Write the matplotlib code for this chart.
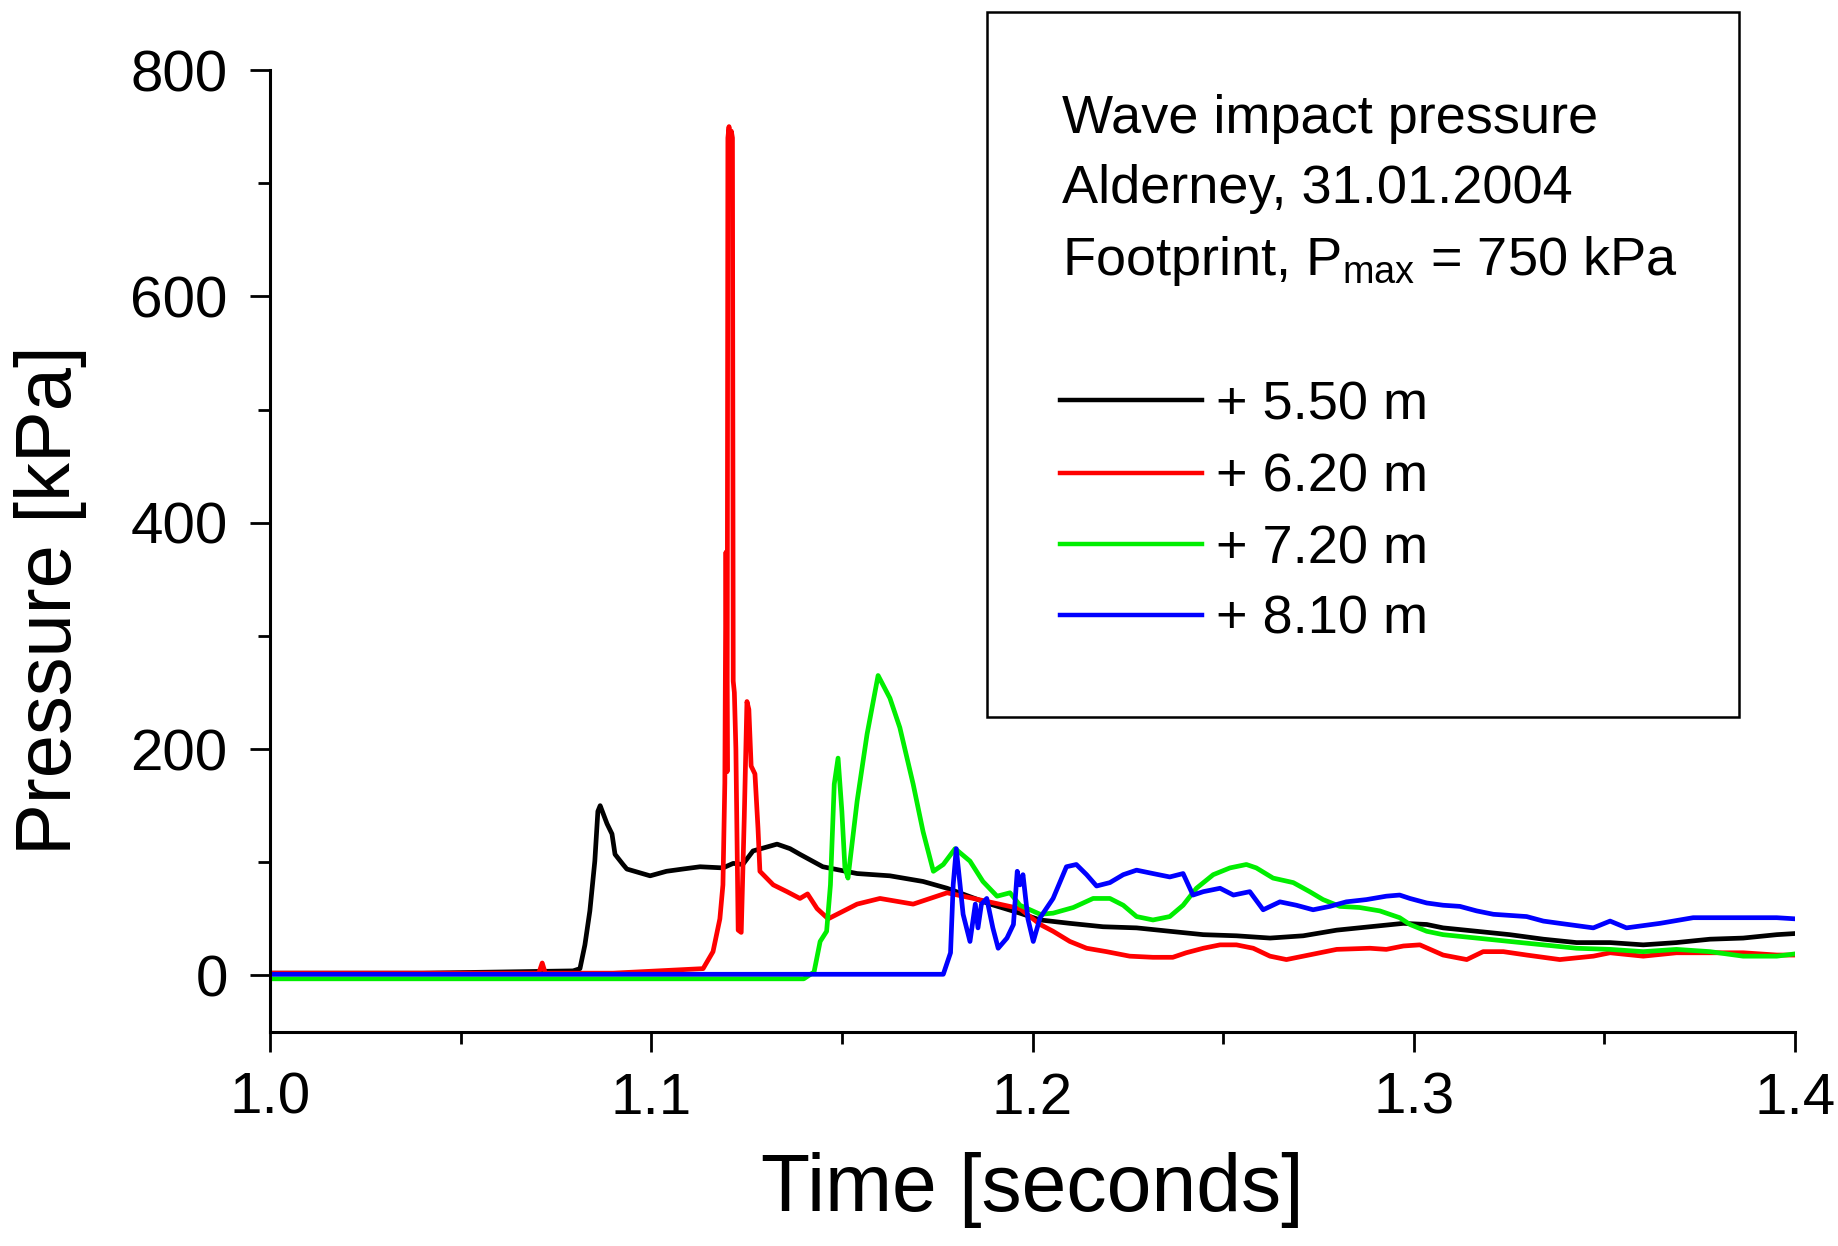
import matplotlib
matplotlib.use("Agg")
import matplotlib.pyplot as plt
from matplotlib.lines import Line2D
from matplotlib.patches import Rectangle
from matplotlib.ticker import MultipleLocator

plt.rcParams['font.family'] = ['Liberation Sans', 'DejaVu Sans']
plt.rcParams['mathtext.fontset'] = 'custom'
plt.rcParams['mathtext.rm'] = 'Liberation Sans'
plt.rcParams['mathtext.it'] = 'Liberation Sans'

# ---------------- data ----------------
labels = ["+ 5.50 m", "+ 6.20 m", "+ 7.20 m", "+ 8.10 m"]
colors = ["#000000", "#ff0000", "#00ee00", "#0000ff"]

t_550 = [1.000, 1.020, 1.040, 1.060, 1.0795, 1.0813, 1.0826, 1.0839, 1.0852, 1.0860,
         1.0866, 1.0875, 1.0884, 1.0897, 1.0905, 1.0926, 1.0936, 1.0997, 1.1040, 1.1083,
         1.1128, 1.1188, 1.1215, 1.1240, 1.1267, 1.1330, 1.1364, 1.1390, 1.1450, 1.1540,
         1.1626, 1.1713, 1.1776, 1.1889, 1.1967, 1.2020, 1.2098, 1.2185, 1.2273, 1.2360,
         1.2448, 1.2535, 1.2623, 1.2710, 1.2798, 1.2885, 1.2973, 1.3034, 1.3077, 1.3165,
         1.3252, 1.3340, 1.3427, 1.3515, 1.3602, 1.3689, 1.3777, 1.3864, 1.3952, 1.4000]
p_550 = [2, 2, 2, 3, 4, 6, 27, 57, 101, 145,
         150, 142, 134, 125, 107, 98, 94, 88, 92, 94,
         96, 95, 99, 98, 110, 116, 112, 107, 96, 90,
         88, 83, 77, 63, 55, 49, 46, 43, 42, 39,
         36, 35, 33, 35, 40, 43, 46, 45, 42, 39,
         36, 32, 29, 29, 27, 29, 32, 33, 36, 37]

t_620 = [1.000, 1.030, 1.060, 1.0705, 1.0714, 1.0722, 1.090, 1.1136, 1.1162, 1.1180,
         1.1188, 1.1193, 1.1196, 1.1199, 1.1201, 1.1204, 1.1207, 1.1210, 1.1213, 1.1215,
         1.1218, 1.1222, 1.1228, 1.1236, 1.1244, 1.1251, 1.1256, 1.1262, 1.1272, 1.1280,
         1.1285, 1.1320, 1.1356, 1.1390, 1.1410, 1.1435, 1.1464, 1.1540, 1.1600, 1.1687,
         1.1776, 1.1845, 1.1967, 1.2020, 1.2054, 1.2098, 1.2142, 1.2194, 1.2255, 1.2316,
         1.2368, 1.2403, 1.2448, 1.2492, 1.2535, 1.2579, 1.2623, 1.2666, 1.2710, 1.2754,
         1.2798, 1.2885, 1.2928, 1.2973, 1.3016, 1.3077, 1.3139, 1.3182, 1.3235, 1.3296,
         1.3383, 1.3471, 1.3515, 1.3602, 1.3689, 1.3864, 1.3952, 1.4000]
p_620 = [2, 2, 2, 2, 11, 2, 2, 6, 21, 50,
         80, 170, 374, 180, 740, 750, 690, 746, 740, 260,
         250, 200, 40, 38, 140, 242, 235, 185, 178, 130,
         92, 80, 74, 68, 72, 59, 50, 63, 68, 63,
         73, 68, 59, 45, 39, 30, 24, 21, 17, 16,
         16, 20, 24, 27, 27, 24, 17, 14, 17, 20,
         23, 24, 23, 26, 27, 18, 14, 21, 21, 18,
         14, 17, 20, 17, 20, 20, 18, 18]

t_720 = [1.000, 1.070, 1.140, 1.1427, 1.1443, 1.1460, 1.1470, 1.1480, 1.1490, 1.1500,
         1.1508, 1.1516, 1.1540, 1.1566, 1.1595, 1.1626, 1.1652, 1.1687, 1.1713, 1.1740,
         1.1766, 1.1797, 1.1836, 1.1870, 1.1907, 1.1941, 1.1967, 1.2020, 1.2054, 1.2107,
         1.2159, 1.2203, 1.2238, 1.2273, 1.2316, 1.2360, 1.2395, 1.2430, 1.2474, 1.2518,
         1.2561, 1.2587, 1.2631, 1.2684, 1.2727, 1.2762, 1.2806, 1.2858, 1.2911, 1.2963,
         1.2990, 1.3034, 1.3077, 1.3165, 1.3252, 1.3340, 1.3427, 1.3515, 1.3602, 1.3689,
         1.3777, 1.3864, 1.3952, 1.4000]
p_720 = [-3, -3, -3, 3, 30, 39, 80, 169, 192, 145,
         95, 86, 154, 213, 265, 245, 219, 169, 127, 92,
         98, 112, 101, 83, 70, 73, 62, 54, 55, 60,
         68, 68, 62, 52, 49, 52, 62, 77, 89, 95,
         98, 95, 86, 82, 74, 67, 61, 60, 57, 51,
         45, 39, 36, 33, 30, 27, 24, 23, 21, 23,
         21, 17, 17, 19]

t_810 = [1.000, 1.090, 1.1766, 1.1785, 1.1792, 1.1800, 1.1810, 1.1818, 1.1836, 1.1850,
         1.1857, 1.1866, 1.1880, 1.1896, 1.1910, 1.1933, 1.1950, 1.1960, 1.1967, 1.1975,
         1.1988, 1.2002, 1.2020, 1.2054, 1.2089, 1.2115, 1.2142, 1.2168, 1.2203, 1.2238,
         1.2273, 1.2316, 1.2360, 1.2395, 1.2421, 1.2448, 1.2492, 1.2527, 1.2570, 1.2605,
         1.2649, 1.2692, 1.2736, 1.2780, 1.2823, 1.2876, 1.2928, 1.2963, 1.2990, 1.3034,
         1.3077, 1.3121, 1.3165, 1.3209, 1.3296, 1.3340, 1.3383, 1.3471, 1.3515, 1.3558,
         1.3646, 1.3733, 1.3821, 1.3952, 1.4000]
p_810 = [1, 1, 1, 20, 80, 112, 80, 54, 30, 63,
         42, 63, 68, 42, 24, 33, 45, 92, 80, 89,
         50, 30, 51, 68, 96, 98, 89, 79, 82, 89,
         93, 90, 87, 90, 71, 74, 77, 71, 74, 58,
         65, 62, 58, 61, 65, 67, 70, 71, 68, 64,
         62, 61, 57, 54, 52, 48, 46, 42, 48, 42,
         46, 51, 51, 51, 50]

series_t = [t_550, t_620, t_720, t_810]
series_p = [p_550, p_620, p_720, p_810]

x_ticks = [1.0, 1.1, 1.2, 1.3, 1.4]
y_ticks = [0, 200, 400, 600, 800]

header = ["Wave impact pressure", "Alderney, 31.01.2004",
          r"Footprint, P$_{\mathregular{max}}$ = 750 kPa"]

# ---------------- figure ----------------
W, H = 1838, 1246
fig = plt.figure(figsize=(W / 100, H / 100), dpi=100)
ax = fig.add_axes([270 / W, 1 - 1032 / H, 1525 / W, (1032 - 70) / H])

for t, p, c in zip(series_t, series_p, colors):
    ax.plot(t, p, color=c, lw=3.4, solid_joinstyle='round')

ax.set_xlim(1.0, 1.4)
ax.set_ylim(-50, 800)
ax.set_xticks(x_ticks)
ax.set_xticklabels([f"{v:.1f}" for v in x_ticks])
ax.set_yticks(y_ticks)
ax.set_yticklabels([str(v) for v in y_ticks])
ax.xaxis.set_minor_locator(MultipleLocator(0.05))
ax.yaxis.set_minor_locator(MultipleLocator(100))

for s in ['top', 'right']:
    ax.spines[s].set_visible(False)
for s in ['left', 'bottom']:
    ax.spines[s].set_linewidth(2.2)

ax.tick_params(axis='both', which='major', direction='out', length=14.5, width=2.0,
               labelsize=42)
ax.tick_params(axis='both', which='minor', direction='out', length=8.5, width=2.0)
ax.tick_params(axis='x', which='major', pad=14)
ax.tick_params(axis='y', which='major', pad=16)

# axis labels
fig.text(51 / W, 1 - 600 / H, "Pressure [kPa]", rotation=90, ha='center',
         va='center', fontsize=56)
fig.text(1032 / W, 1 - 1190 / H, "Time [seconds]", ha='center', va='center',
         fontsize=58)

# legend box
fig.patches.append(Rectangle((987 / W, 1 - 717 / H), 752 / W, 705 / H,
                             transform=fig.transFigure, fill=False,
                             edgecolor='black', lw=1.8))
for txt, yb in zip(header, [133, 203, 275]):
    fig.text(1062 / W, 1 - yb / H, txt, ha='left', va='baseline', fontsize=39)

for lab, c, yl in zip(labels, colors, [400, 473, 544, 615]):
    fig.lines.append(Line2D([1060 / W, 1202 / W], [1 - yl / H, 1 - yl / H],
                            transform=fig.transFigure, color=c, lw=3.2))
    fig.text(1216 / W, 1 - (yl + 19) / H, lab, ha='left', va='baseline',
             fontsize=39)

fig.savefig("out.png", dpi=100)
